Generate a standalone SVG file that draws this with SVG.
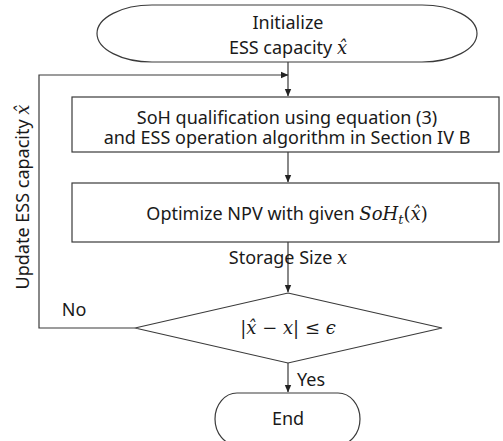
<svg xmlns="http://www.w3.org/2000/svg" width="503" height="441" viewBox="0 0 503 441">
<style>
.s{fill:#fff;stroke:#3a3a3a;stroke-width:1.2}
.c{fill:none;stroke:#3a3a3a;stroke-width:1.2}
.t{font-family:"Noto Sans","Open Sans",sans-serif;font-size:18px;fill:#1a1a1a;text-anchor:middle}
.m{font-family:"DejaVu Serif","Liberation Serif",serif;font-style:italic}
.r{font-family:"DejaVu Serif","Liberation Serif",serif;font-style:normal}
</style>
<defs>
<marker id="a" markerWidth="8" markerHeight="8" refX="7" refY="4" orient="auto" markerUnits="userSpaceOnUse">
<path d="M0,0.8 L7.5,4 L0,7.2 Z" fill="#222"/>
</marker>
</defs>
<g id="connectors">
<path class="c" d="M288,62 V96" marker-end="url(#a)"/>
<path class="c" d="M135,328 H39 V75 H288" marker-end="url(#a)"/>
<path class="c" d="M288,152 V182" marker-end="url(#a)"/>
<path class="c" d="M288,242 V292" marker-end="url(#a)"/>
<path class="c" d="M288,363 V392" marker-end="url(#a)"/>
<text class="t" x="288" y="264">Storage Size <tspan class="m">x</tspan></text>
<text class="t" x="74" y="316">No</text>
<text class="t" x="311" y="386">Yes</text>
<text class="t" transform="translate(29,197) rotate(-90)">Update ESS capacity <tspan class="m">x̂</tspan></text>
</g>
<g id="start">
<path class="s" d="M152,5 H422 A55,28.5 0 0 1 422,62 H152 A55,28.5 0 0 1 152,5 Z"/>
<text class="t" x="288" y="29">Initialize<tspan x="288" dy="25">ESS capacity </tspan><tspan class="m">x̂</tspan></text>
</g>
<g id="soh">
<rect class="s" x="72" y="97" width="427" height="55"/>
<text class="t" x="287" y="124">SoH qualification using equation (3)<tspan x="287" dy="20">and ESS operation algorithm in Section IV B</tspan></text>
</g>
<g id="optimize">
<rect class="s" x="72" y="183" width="427" height="59"/>
<text class="t" x="287" y="220">Optimize NPV with given <tspan class="m">SoH</tspan><tspan class="m" font-size="13" dy="4">t</tspan><tspan class="r" dy="-4">(</tspan><tspan class="m">x̂</tspan><tspan class="r">)</tspan></text>
</g>
<g id="decision">
<path class="s" d="M288,293 L442,328 L288,363 L135,328 Z"/>
<text class="t r" x="288" y="334">|<tspan class="m">x̂</tspan> − <tspan class="m">x</tspan>| ≤  <tspan class="m">ϵ</tspan></text>
</g>
<g id="end">
<path class="s" d="M237,393 H338 A22,26 0 0 1 338,445 H237 A22,26 0 0 1 237,393 Z"/>
<text class="t" x="288" y="425">End</text>
</g>
</svg>
